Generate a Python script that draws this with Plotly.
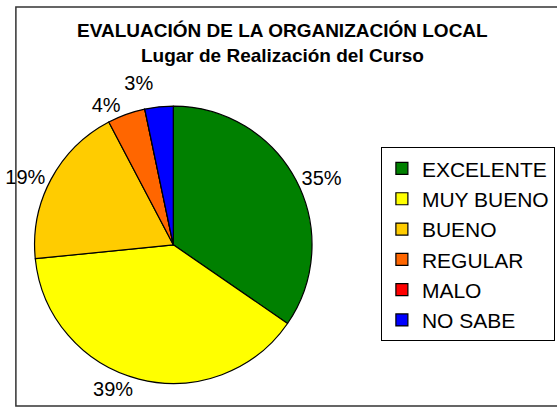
import plotly.graph_objects as go

categories = ["EXCELENTE", "MUY BUENO", "BUENO", "REGULAR", "MALO", "NO SABE"]
values = [34.6, 38.8, 18.9, 4.4, 0.0, 3.3]
colors = ["#008000", "#FFFF00", "#FFCC00", "#FF6600", "#FF0000", "#0000FF"]

W, H = 557, 409
cx, cy, r = 167, 246, 141

fig = go.Figure(go.Pie(
    labels=categories,
    values=values,
    sort=False,
    direction="clockwise",
    rotation=0,
    marker=dict(colors=colors, line=dict(color="black", width=1.2)),
    textposition=["outside", "outside", "outside", "outside", "none", "outside"],
    texttemplate="%{percent:.0%}",
    textfont=dict(family="Liberation Sans, Arial", size=20, color="black"),
    hoverinfo="label+percent",
    domain=dict(x=[(cx - r) / W, (cx + r) / W], y=[(H - cy - r) / H, (H - cy + r) / H]),
))

fig.update_layout(
    width=W, height=H,
    margin=dict(l=0, r=0, t=0, b=0),
    paper_bgcolor="white",
    font=dict(family="Liberation Sans, Arial", color="black"),
    title=dict(
        text="<b>EVALUACIÓN DE LA ORGANIZACIÓN LOCAL</b><br><b>Lugar de Realización del Curso</b>",
        x=0.507, xanchor="center", y=1 - 37 / H, yanchor="top", yref="container",
        font=dict(family="Liberation Sans, Arial", size=19, color="black"),
    ),
    legend=dict(
        x=378 / W, xanchor="left", y=(H - 245.5) / H, yanchor="middle",
        bordercolor="black", borderwidth=1, bgcolor="white",
        font=dict(family="Liberation Sans, Arial", size=21, color="black"),
        traceorder="normal",
    ),
    shapes=[dict(
        type="rect", xref="paper", yref="paper",
        x0=7 / W, x1=1.02, y0=1 / H, y1=(H - 7) / H,
        line=dict(color="#333333", width=1.5), layer="below",
    )],
)

post = (
    "document.body.style.margin='0';"
    "document.querySelectorAll('path.textline').forEach(function(e){e.style.display='none';});"
)
fig.write_html("out.html", post_script=post, config={"displayModeBar": False})
